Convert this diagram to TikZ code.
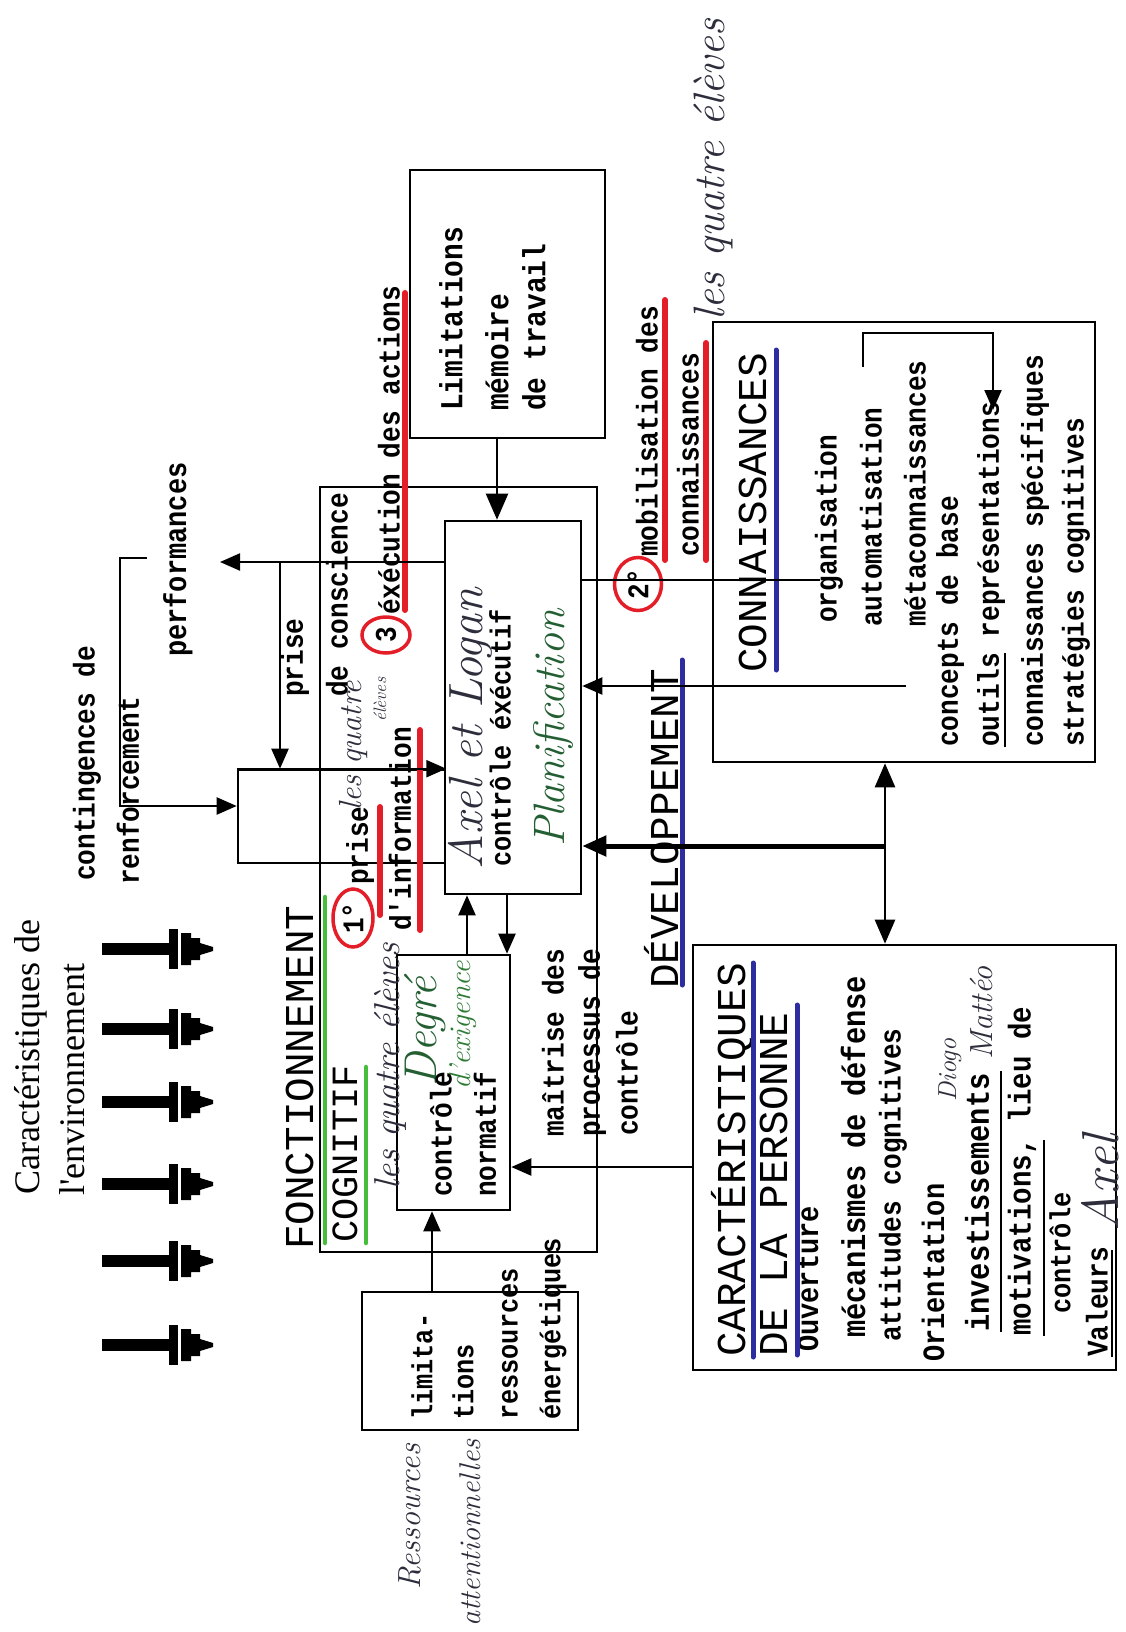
\documentclass[tikz,border=0pt]{standalone}
\usepackage{fontspec}
\usetikzlibrary{arrows.meta,shapes.geometric}
\newfontfamily\monofont[FakeStretch=0.87]{Liberation Mono}
\newfontfamily\titlefont{Liberation Mono}
\newfontfamily\seriffont{Liberation Serif}
\definecolor{redpen}{RGB}{228,30,40}
\definecolor{bluepen}{RGB}{45,45,160}
\definecolor{greenpen}{RGB}{70,190,60}
\definecolor{inkdark}{RGB}{45,45,60}
\definecolor{inkgreen}{RGB}{35,95,50}
\tikzset{
  box/.style={draw, line width=2.6pt, inner sep=0pt},
  tw/.style={font=\monofont\bfseries\fontsize{#1}{#1}\selectfont, inner sep=0pt, rotate=90, anchor=west},
  tw/.default=30,
  ttl/.style={font=\titlefont\fontsize{#1}{#1}\selectfont, inner sep=0pt, rotate=90, anchor=west},
  ttl/.default=41,
  env/.style={font=\seriffont\fontsize{36}{36}\selectfont, inner sep=0pt, rotate=90, anchor=west},
  hw/.style={font=\rmfamily\itshape\fontsize{#1}{#1}\selectfont, inner sep=0pt, rotate=90, anchor=west, text=inkdark},
  hw/.default=36,
  ln/.style={line width=2.2pt},
  arr/.style={line width=2.2pt, -{Triangle[length=20pt,width=17pt]}},
  dblarr/.style={line width=2.6pt, {Triangle[length=24pt,width=20pt]}-{Triangle[length=24pt,width=20pt]}},
  redul/.style={draw=redpen, line width=6pt, line cap=round},
  blueul/.style={draw=bluepen, line width=5pt, line cap=round},
  greenul/.style={draw=greenpen, line width=4.5pt, line cap=round},
  thinul/.style={line width=1.8pt},
  redcirc/.style={ellipse, draw=redpen, line width=3.5pt, inner sep=0pt, rotate=90, font=\monofont\bfseries\fontsize{30}{30}\selectfont},
}
\begin{document}
\begin{tikzpicture}[x=1pt,y=-1pt]
\useasboundingbox (0,0) rectangle (1125,1632);
\fill[white] (0,0) rectangle (1125,1632);

% ---------- boxes
\node[box, minimum width=277, minimum height=765] (fonct) at (458.5,869.5) {};
\node[box, minimum width=195, minimum height=268] (limtop) at (507.5,304) {};
\node[box, minimum width=136, minimum height=373] (exec) at (513,707.5) {};
\node[box, minimum width=207, minimum height=93] (prisebox) at (341.5,816.5) {};
\node[box, minimum width=113, minimum height=255] (normatif) at (453.5,1082.5) {};
\node[box, minimum width=382, minimum height=440] (conn) at (904,542) {};
\node[box, minimum width=423, minimum height=425] (carac) at (904.5,1157.5) {};
\node[box, minimum width=216, minimum height=138] (limbot) at (470,1361) {};

% ---------- environment arrows
\foreach \yy in {949,1029,1102,1184,1261,1345}{
  \fill (102,\yy-6) rectangle (170,\yy+6);
  \fill (169,\yy-20) rectangle (178,\yy+20);
  \fill (181,\yy-16) -- (191,\yy-16) -- (191,\yy-11) -- (200,\yy-11) -- (200,\yy-6) -- (213,\yy-2)
        -- (213,\yy+2) -- (200,\yy+6) -- (200,\yy+11) -- (191,\yy+11) -- (191,\yy+16) -- (181,\yy+16) -- cycle;
}

% ---------- left texts
\node[env] (env1) at (31,1195) {Caractéristiques de};
\node[env] (env2) at (72,1196) {l'environnement};
\node[tw] (cont1) at (87,881) {contingences de};
\node[tw] (cont2) at (128,885) {renforcement};
\node[tw=31] (perf) at (178,657) {performances};
\node[tw] (prise1) at (295,697) {prise};
\node[tw] (consc) at (337,697) {de conscience};

% ---------- top limitations
\node[tw=32] (lim1) at (451,411) {Limitations};
\node[tw=32] (lim2) at (497,411) {mémoire};
\node[tw=32] (lim3) at (534,411) {de travail};

% ---------- execution / prise d'information
\node[redcirc, minimum width=36, minimum height=48] (c3) at (386,635) {3};
\node[tw] (exe) at (389,615) {éxécution des actions};
\node[redcirc, minimum width=58, minimum height=40] (c1) at (353,918) {1°};
\node[tw] (prise2) at (360,885) {prise};
\node[hw=32] (hq1) at (353,811) {les quatre};
\node[hw=18] (hq2) at (380,722) {élèves};
\node[tw] (info) at (400,931) {d'information};

% ---------- executive box
\node[hw=48] (axel) at (470,870) {Axel et Logan};
\node[tw=29] (ctrlexe) at (500,867) {contrôle éxécutif};
\node[hw=44, text=inkgreen] (planif) at (553,847) {Planification};

% ---------- mobilisation
\node[redcirc, minimum width=53, minimum height=47] (c2) at (638,584) {2°};
\node[tw] (mob1) at (647,557) {mobilisation des};
\node[tw] (mob2) at (688,557) {connaissances};
\node[hw=44] (hq3) at (713,321) {les quatre élèves};

% ---------- connaissances
\node[ttl] (conntitle) at (753,673) {CONNAISSANCES};
\node[tw] (k1) at (829,623) {organisation};
\node[tw] (k2) at (871,627) {automatisation};
\node[tw] (k3) at (915,627) {métaconnaissances};
\node[tw] (k4) at (950,747) {concepts de base};
\node[tw] (k5) at (991,747) {outils représentations};
\node[tw] (k6) at (1035,747) {connaissances spécifiques};
\node[tw] (k7) at (1076,747) {stratégies cognitives};

% ---------- developpement / fonctionnement
\node[ttl] (dev) at (662,989) {DÉVELOPPEMENT};
\node[ttl] (fonctt) at (300,1250) {FONCTIONNEMENT};
\node[ttl=37] (cogn) at (345,1243) {COGNITIF};
\node[hw=36] (hq4) at (390,1190) {les quatre élèves};

% ---------- normatif
\node[hw=46, text=inkgreen] (degre) at (425,1087) {Degré};
\node[hw=30, text=inkgreen!70!greenpen] (exig) at (463,1090) {d'exigence};
\node[tw] (n1) at (441,1197) {contrôle};
\node[tw] (n2) at (485,1197) {normatif};
\node[tw] (m1) at (553,1137) {maîtrise des};
\node[tw] (m2) at (592,1137) {processus de};
\node[tw] (m3) at (627,1136) {contrôle};

% ---------- caracteristiques
\node[ttl] (ca1) at (732,1357) {CARACTÉRISTIQUES};
\node[ttl] (ca2) at (774,1357) {DE LA PERSONNE};
\node[tw=31] (p1) at (808,1352) {Ouverture};
\node[tw=33] (p2) at (853,1338) {mécanismes de défense};
\node[tw] (p3) at (893,1342) {attitudes cognitives};
\node[tw=31] (p4) at (933,1362) {Orientation};
\node[tw=33] (p5) at (977,1332) {investissements};
\node[hw=26] (diogo) at (950,1102) {Diogo};
\node[hw=32] (matteo) at (982,1060) {Mattéo};
\node[tw=31.5] (p6) at (1022,1336) {motivations, lieu de};
\node[tw=29] (p7) at (1060,1314) {contrôle};
\node[tw] (p8) at (1097,1357) {Valeurs};
\node[hw=52] (axel2) at (1100,1232) {Axel};

% ---------- bottom limitations
\node[tw=29] (b1) at (422,1420) {limita-};
\node[tw=29] (b2) at (463,1420) {tions};
\node[tw=29] (b3) at (510,1420) {ressources};
\node[tw=29] (b4) at (553,1420) {énergétiques};
\node[hw=32] (res1) at (410,1590) {Ressources};
\node[hw=30] (res2) at (470,1627) {attentionnelles};

% ---------- underlines
\draw[redul] (405,293) -- (405,610);
\draw[redul] (380,807) -- (380,915);
\draw[redul] (420,730) -- (420,930);
\draw[redul] (665,300) -- (665,560);
\draw[redul] (706,343) -- (706,560);
\draw[blueul] (776,350) -- (776,670);
\draw[blueul] (682,660) -- (682,985);
\draw[blueul] (753,963) -- (753,1357);
\draw[blueul] (797,1005) -- (797,1355);
\draw[greenul] (325,897) -- (325,1243);
\draw[greenul] (366,1067) -- (366,1243);
\draw[thinul] (1005,747) -- (1005,653);
\draw[thinul] (1001,1332) -- (1001,1071);
\draw[thinul] (1044,1336) -- (1044,1140);
\draw[thinul] (1112,1357) -- (1112,1250);

% ---------- connectors
\coordinate (perfend) at (220,562);
\coordinate (pj) at (280,562);
\draw[arr] (exec.west |- pj) -- (perfend);
\draw[arr] (pj) -- (prisebox.north -| pj);
\coordinate (contstart) at (147,558);
\coordinate (contc) at (120,806);
\draw[arr] (contstart) -- (120,558) -- (contc) -- (prisebox.west |- contc);
\draw[arr] (prisebox.north west) -- (prisebox.north east);

\coordinate (mobend) at (820,580);
\draw[ln] (exec.east |- mobend) -- (mobend);
\coordinate (devstart) at (906,686);
\draw[arr] (devstart) -- (exec.east |- devstart);
\coordinate (thj) at (885,846);
\draw[line width=5pt, -{Triangle[length=24pt,width=20pt]}] (thj) -- (exec.east |- thj);
\draw[dblarr] (conn.south -| thj) -- (carac.north -| thj);
\coordinate (cy) at (0,1167);
\draw[arr] (carac.west |- cy) -- (normatif.east |- cy);
\coordinate (u1) at (467,0);
\coordinate (u2) at (507,0);
\coordinate (u3) at (432,0);
\coordinate (u4) at (497,0);
\draw[arr] (normatif.north -| u1) -- (exec.south -| u1);
\draw[arr] (exec.south -| u2) -- (normatif.north -| u2);
\draw[arr] (limbot.north -| u3) -- (normatif.south -| u3);
\draw[arr, -{Triangle[length=26pt,width=22pt]}] (limtop.south -| u4) -- (exec.north -| u4);
\coordinate (brs) at (863,367);
\coordinate (bre) at (993,410);
\draw[arr] (brs) -- (863,333) -- (993,333) -- (bre);
\end{tikzpicture}
\end{document}
